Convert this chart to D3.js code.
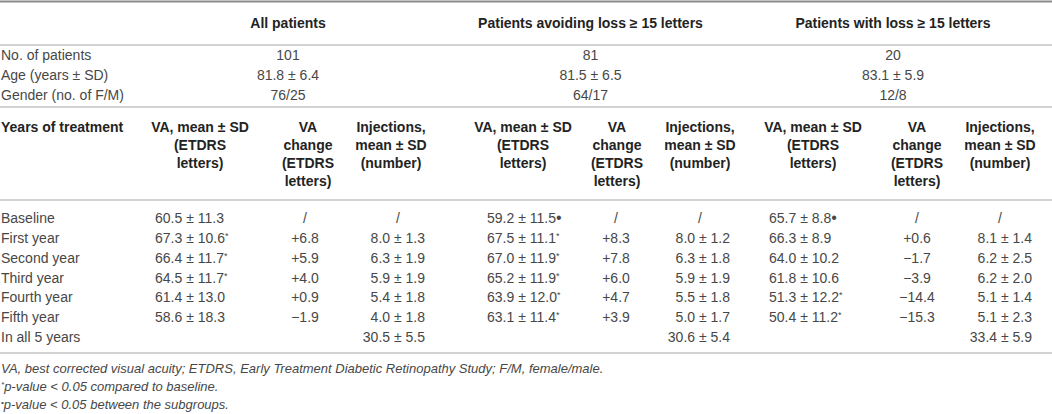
<!DOCTYPE html>
<html>
<head>
<meta charset="utf-8">
<script src="https://cdn.jsdelivr.net/npm/d3@7"></script>
<style>
  body { margin: 0; background: #fff; }
  svg { display: block; font-family: "Liberation Sans", Arial, sans-serif; }
  .body { font-size: 14px; fill: #474747; }
  .head { font-size: 14px; font-weight: 700; fill: #232323; }
  .note { font-size: 13px; font-style: italic; fill: #474747; }
</style>
</head>
<body>
<svg width="1052" height="414"></svg>
<script>
// table content
const groups = ["All patients", "Patients avoiding loss \u2265 15 letters", "Patients with loss \u2265 15 letters"];
const summaryLabels = ["No. of patients", "Age (years \u00b1 SD)", "Gender (no. of F/M)"];
const nPatients = [101, 81, 20];
const ageMean = [81.8, 81.5, 83.1];
const ageSd = [6.4, 6.5, 5.9];
const genderF = [76, 64, 12];
const genderM = [25, 17, 8];

const subHeaders = [
  ["VA, mean \u00b1 SD", "(ETDRS", "letters)"],
  ["VA", "change", "(ETDRS", "letters)"],
  ["Injections,", "mean \u00b1 SD", "(number)"]
];
const rowTitle = "Years of treatment";
const years = ["Baseline", "First year", "Second year", "Third year", "Fourth year", "Fifth year", "In all 5 years"];

// per group: all, avoiding loss, with loss
const vaMean = [
  [60.5, 67.3, 66.4, 64.5, 61.4, 58.6],
  [59.2, 67.5, 67.0, 65.2, 63.9, 63.1],
  [65.7, 66.3, 64.0, 61.8, 51.3, 50.4]
];
const vaSd = [
  [11.3, 10.6, 11.7, 11.7, 13.0, 18.3],
  [11.5, 11.1, 11.9, 11.9, 12.0, 11.4],
  [8.8, 8.9, 10.2, 10.6, 12.2, 11.2]
];
const vaMark = [
  ["", "*", "*", "*", "", ""],
  ["\u2022", "*", "*", "*", "*", "*"],
  ["\u2022", "", "", "", "*", "*"]
];
const vaChange = [
  [null, 6.8, 5.9, 4.0, 0.9, -1.9],
  [null, 8.3, 7.8, 6.0, 4.7, 3.9],
  [null, 0.6, -1.7, -3.9, -14.4, -15.3]
];
const injMean = [
  [null, 8.0, 6.3, 5.9, 5.4, 4.0],
  [null, 8.0, 6.3, 5.9, 5.5, 5.0],
  [null, 8.1, 6.2, 6.2, 5.1, 5.1]
];
const injSd = [
  [null, 1.3, 1.9, 1.9, 1.8, 1.8],
  [null, 1.2, 1.8, 1.9, 1.8, 1.7],
  [null, 1.4, 2.5, 2.0, 1.4, 2.3]
];
const injTotalMean = [30.5, 30.6, 33.4];
const injTotalSd = [5.5, 5.4, 5.9];

const notes = [
  {mark: "", text: "VA, best corrected visual acuity; ETDRS, Early Treatment Diabetic Retinopathy Study; F/M, female/male."},
  {mark: "*", text: "p-value < 0.05 compared to baseline."},
  {mark: "\u2022", text: "p-value < 0.05 between the subgroups."}
];

// layout
const f1 = d3.format(".1f");
const fChange = d3.format("+.1f");
const pm = (m, s) => f1(m) + " \u00b1 " + f1(s);

const groupX = d3.scalePoint().domain(groups).range([288, 893]);
// column anchors per group: va left edge, change centre, injections right edge, slash centre, header centres
const cols = [
  {va: 155, vaHead: 200, ch: 305, chHead: 308, inj: 425, injHead: 391, slash: 398},
  {va: 487, vaHead: 523, ch: 616, chHead: 617, inj: 730, injHead: 700, slash: 700},
  {va: 769, vaHead: 813, ch: 917, chHead: 917, inj: 1032, injHead: 1000, slash: 1000}
];

const svg = d3.select("svg");
const ySum = d3.scalePoint().domain(summaryLabels).range([55, 95]);
const yHead = d3.scaleLinear().domain([0, 3]).range([127, 181]);
const yRow = d3.scalePoint().domain(years).range([218, 337]);
const base = 5;

// rules
const rules = [
  {y: 1.5, w: 2, c: "#8a8a8a"},
  {y: 45, w: 1.2, c: "#a8a8a8"},
  {y: 107, w: 1.2, c: "#a8a8a8"},
  {y: 200, w: 1.2, c: "#a8a8a8"},
  {y: 353, w: 1.2, c: "#a8a8a8"}
];
svg.selectAll("line.rule").data(rules).join("line")
  .attr("class", "rule")
  .attr("x1", 0).attr("x2", 1052)
  .attr("y1", d => d.y).attr("y2", d => d.y)
  .attr("stroke", d => d.c).attr("stroke-width", d => d.w);

// group headers
svg.selectAll("text.group").data(groups).join("text")
  .attr("class", "head group")
  .attr("x", d => groupX(d)).attr("y", 23 + base)
  .attr("text-anchor", "middle")
  .text(d => d);

// summary block
svg.selectAll("text.sumlab").data(summaryLabels).join("text")
  .attr("class", "body sumlab")
  .attr("x", 1).attr("y", d => ySum(d) + base)
  .text(d => d);

groups.forEach((g, gi) => {
  const vals = [String(nPatients[gi]), pm(ageMean[gi], ageSd[gi]), genderF[gi] + "/" + genderM[gi]];
  svg.selectAll("text.sum" + gi).data(vals).join("text")
    .attr("class", "body sum" + gi)
    .attr("x", groupX(g)).attr("y", (d, i) => ySum(summaryLabels[i]) + base)
    .attr("text-anchor", "middle")
    .text(d => d);
});

// column headers
svg.append("text").attr("class", "head")
  .attr("x", 1).attr("y", yHead(0) + base).text(rowTitle);

cols.forEach((c, gi) => {
  const xs = [c.vaHead, c.chHead, c.injHead];
  subHeaders.forEach((lines, k) => {
    svg.selectAll(null).data(lines).join("text")
      .attr("class", "head")
      .attr("x", xs[k]).attr("y", (d, i) => yHead(i) + base)
      .attr("text-anchor", "middle")
      .text(d => d);
  });
});

// row labels
svg.selectAll("text.year").data(years).join("text")
  .attr("class", "body year")
  .attr("x", 1).attr("y", d => yRow(d) + base)
  .text(d => d);

// body cells
cols.forEach((c, gi) => {
  const yrs = years.slice(0, 6);

  const va = svg.selectAll(null).data(yrs).join("text")
    .attr("class", "body")
    .attr("x", c.va).attr("y", d => yRow(d) + base);
  va.append("tspan").text((d, i) => pm(vaMean[gi][i], vaSd[gi][i]));
  va.append("tspan")
    .attr("font-size", (d, i) => vaMark[gi][i] === "*" ? 9 : 16)
    .attr("dy", (d, i) => vaMark[gi][i] === "*" ? -4 : 0)
    .text((d, i) => vaMark[gi][i]);

  svg.selectAll(null).data(yrs).join("text")
    .attr("class", "body")
    .attr("x", c.ch).attr("y", d => yRow(d) + base)
    .attr("text-anchor", "middle")
    .text((d, i) => vaChange[gi][i] == null ? "/" : fChange(vaChange[gi][i]));

  svg.selectAll(null).data(yrs).join("text")
    .attr("class", "body")
    .attr("x", (d, i) => injMean[gi][i] == null ? c.slash : c.inj)
    .attr("y", d => yRow(d) + base)
    .attr("text-anchor", (d, i) => injMean[gi][i] == null ? "middle" : "end")
    .text((d, i) => injMean[gi][i] == null ? "/" : pm(injMean[gi][i], injSd[gi][i]));

  svg.append("text").attr("class", "body")
    .attr("x", c.inj).attr("y", yRow(years[6]) + base)
    .attr("text-anchor", "end")
    .text(pm(injTotalMean[gi], injTotalSd[gi]));
});

// footnotes
const yNote = d3.scalePoint().domain(d3.range(notes.length)).range([368, 404]);
const nt = svg.selectAll("text.note").data(notes).join("text")
  .attr("class", "note")
  .attr("x", 1).attr("y", (d, i) => yNote(i) + 4.6);
nt.append("tspan")
  .attr("font-size", 8).attr("dy", -4)
  .text(d => d.mark);
nt.append("tspan")
  .attr("dy", d => d.mark ? 4 : 0)
  .text(d => d.text);
</script>
</body>
</html>
